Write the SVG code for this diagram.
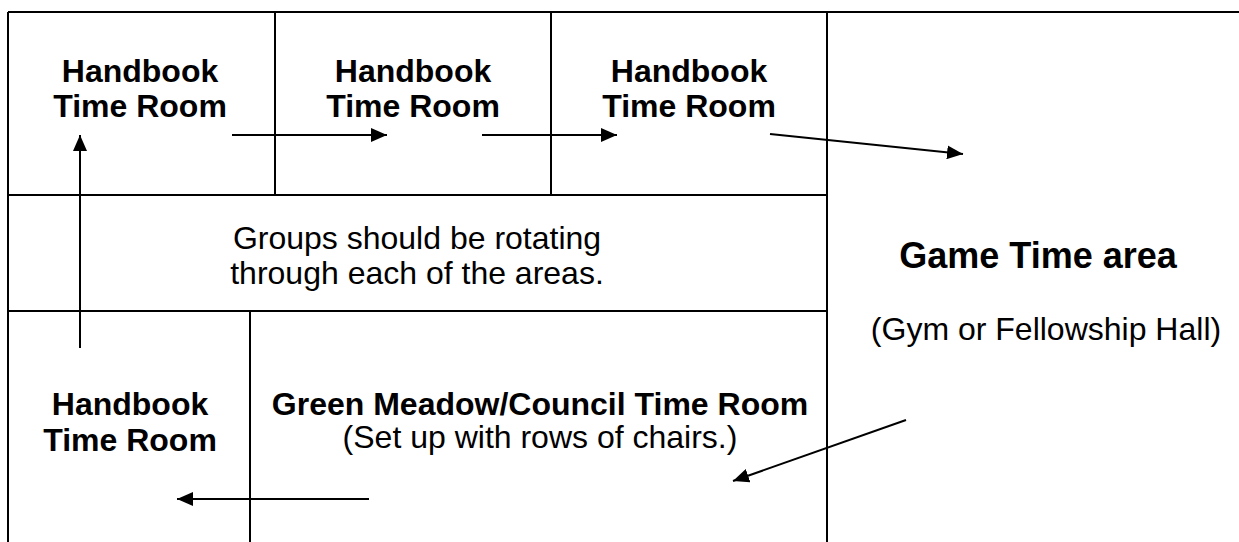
<svg xmlns="http://www.w3.org/2000/svg" width="1239" height="542" viewBox="0 0 1239 542">
<style>
.wall{stroke:#000;stroke-width:2;fill:none}
.b{font-family:"Liberation Sans",Arial,sans-serif;font-weight:bold;font-size:32px;fill:#000;text-anchor:middle}
.r{font-family:"Liberation Sans",Arial,sans-serif;font-size:32px;fill:#000;text-anchor:middle}
.arr{stroke:#000;stroke-width:2;fill:none;marker-end:url(#ah)}
</style>
<defs>
<marker id="ah" markerUnits="userSpaceOnUse" viewBox="0 0 16 14" refX="16" refY="7" markerWidth="16" markerHeight="14" orient="auto">
<path d="M0,0 L16,7 L0,14 Z" fill="#000"/>
</marker>
</defs>
<rect width="1239" height="542" fill="#fff"/>
<g id="walls">
<line class="wall" x1="8" y1="12" x2="1239" y2="12"/>
<line class="wall" x1="8" y1="12" x2="8" y2="542"/>
<line class="wall" x1="827" y1="12" x2="827" y2="542"/>
<line class="wall" x1="275" y1="12" x2="275" y2="195"/>
<line class="wall" x1="551" y1="12" x2="551" y2="195"/>
<line class="wall" x1="8" y1="195" x2="827" y2="195"/>
<line class="wall" x1="8" y1="311" x2="827" y2="311"/>
<line class="wall" x1="250" y1="311" x2="250" y2="542"/>
</g>
<g id="room1"><text class="b" x="140" y="82">Handbook</text><text class="b" x="140" y="117">Time Room</text></g>
<g id="room2"><text class="b" x="413" y="82">Handbook</text><text class="b" x="413" y="117">Time Room</text></g>
<g id="room3"><text class="b" x="689" y="82">Handbook</text><text class="b" x="689" y="117">Time Room</text></g>
<g id="note"><text class="r" x="417" y="249">Groups should be rotating</text><text class="r" x="417" y="284">through each of the areas.</text></g>
<g id="game"><text class="b" x="1038" y="268" style="font-size:36px">Game Time area</text><text class="r" x="1046" y="340">(Gym or Fellowship Hall)</text></g>
<g id="room4"><text class="b" x="130" y="415">Handbook</text><text class="b" x="130" y="451">Time Room</text></g>
<g id="council"><text class="b" x="540" y="415">Green Meadow/Council Time Room</text><text class="r" x="540" y="448">(Set up with rows of chairs.)</text></g>
<g id="connectors">
<line class="arr" x1="80" y1="348" x2="80" y2="135"/>
<line class="arr" x1="232" y1="135" x2="387" y2="135"/>
<line class="arr" x1="482" y1="135" x2="617" y2="135"/>
<line class="arr" x1="770" y1="134" x2="963" y2="154"/>
<line class="arr" x1="906" y1="420" x2="733" y2="481"/>
<line class="arr" x1="369" y1="499" x2="177" y2="499"/>
</g>
</svg>
